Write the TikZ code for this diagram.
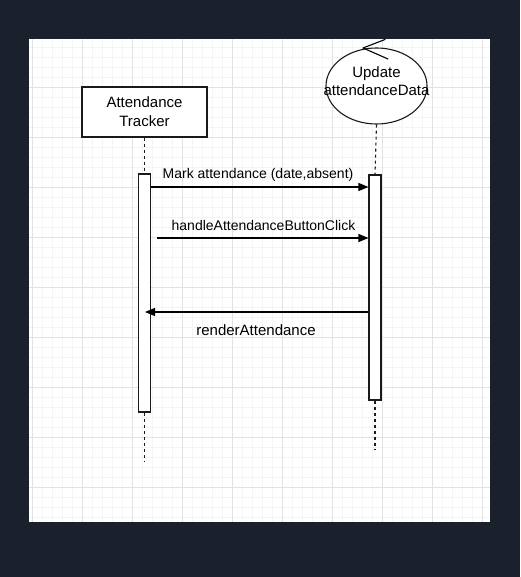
\documentclass[tikz,border=0pt]{standalone}
\usepackage{fontspec}
\setmainfont{Liberation Sans}
\usetikzlibrary{arrows.meta,shapes.geometric}
\definecolor{darkbg}{HTML}{1B212C}
\definecolor{gridminor}{HTML}{F4F4F4}
\definecolor{gridmajor}{HTML}{E2E2E2}
\definecolor{stroke}{HTML}{1A1A1A}
\tikzset{
  objbox/.style={draw=stroke, line width=1.1pt, fill=white, minimum width=125pt, minimum height=50pt, inner sep=0pt, align=center, font=\fontsize{15}{19}\selectfont},
  ctrlobj/.style={draw=stroke, line width=1.1pt, fill=white, ellipse, minimum width=101pt, minimum height=76pt, inner sep=0pt},
  ctrltext/.style={align=center, inner sep=0pt, font=\fontsize{15}{18}\selectfont},
  actbar/.style={draw=stroke, line width=1.1pt, fill=white, minimum width=12pt, inner sep=0pt},
  lifeline/.style={draw=stroke, line width=1.1pt, dash pattern=on 3pt off 3pt},
  msg/.style={draw=black, line width=1.1pt, -{Triangle[length=10pt,width=8pt]}},
  msglabel/.style={font=\fontsize{14}{16}\selectfont, inner sep=0pt},
}
\begin{document}
\begin{tikzpicture}[x=1pt,y=-1pt]
\useasboundingbox (0,0) rectangle (520,577);
\fill[darkbg] (0,0) rectangle (520,577);
\fill[white] (29,39) rectangle (490,522);
\begin{scope}
\clip (29,39) rectangle (490,522);
\foreach \x in {32,42,...,490} \draw[gridminor, line width=0.8pt] (\x,39) -- (\x,522);
\foreach \y in {47,57,...,522} \draw[gridminor, line width=0.8pt] (29,\y) -- (490,\y);
\foreach \x in {32,82,...,490} \draw[gridmajor, line width=0.8pt] (\x,39) -- (\x,522);
\foreach \y in {87,137,...,522} \draw[gridmajor, line width=0.8pt] (29,\y) -- (490,\y);
\end{scope}

% left object
\node[objbox] (tracker) at (144.5,112) {Attendance\\Tracker};
\node[actbar, minimum height=238pt] (barL) at (144.5,293) {};
\coordinate (endL) at (144.5,462);
\draw[lifeline] (tracker.south) -- (barL.north);
\draw[lifeline] (barL.south) -- (endL);

% right object
\node[ctrlobj] (update) at (376.5,86) {};
\node[ctrltext] (updatetext) at (376.5,81) {Update\\attendanceData};
\draw[stroke, line width=1.1pt, line cap=round, line join=round] (385,39.5) -- (363,48) -- (388,59);
\node[actbar, minimum height=225pt] (barR) at (375,287.5) {};
\coordinate (endR) at (375,449);
\draw[lifeline] (update.south) -- (barR.north);
\draw[lifeline] (barR.south) -- (endR);

% messages
\coordinate (m1s) at (barL.east |- 0,187);
\coordinate (m1e) at (barR.west |- 0,187);
\draw[msg] (m1s) -- (m1e);
\node[msglabel] (l1) at (258,175) {Mark attendance (date,absent)};

\coordinate (m2s) at (157,238);
\coordinate (m2e) at (barR.west |- 0,238);
\draw[msg] (m2s) -- (m2e);
\node[msglabel] (l2) at (263.5,225) {handleAttendanceButtonClick};

\coordinate (m3s) at (barR.west |- 0,312);
\coordinate (m3e) at (145,312);
\draw[msg] (m3s) -- (m3e);
\node[msglabel, font=\fontsize{15}{17}\selectfont] (l3) at (256,330) {renderAttendance};
\end{tikzpicture}
\end{document}
